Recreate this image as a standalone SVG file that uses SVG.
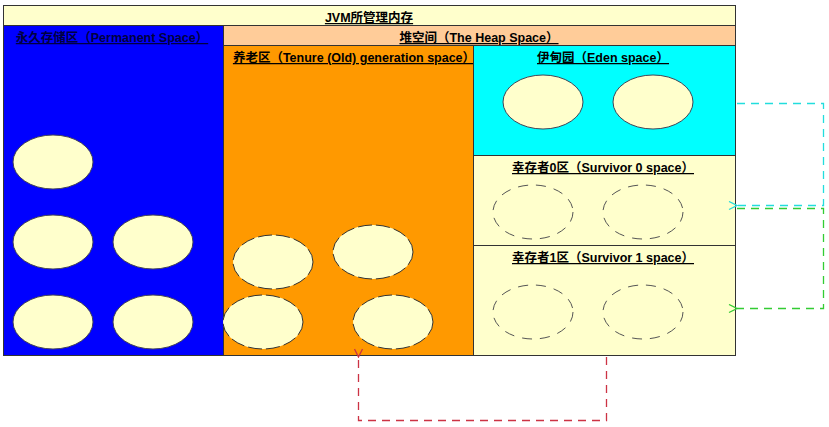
<svg xmlns="http://www.w3.org/2000/svg" width="829" height="427" viewBox="0 0 829 427">
<style>
.box{stroke:#333;stroke-width:1}
.t{font-family:"Liberation Sans","Noto Sans CJK SC",sans-serif;font-size:12.5px;font-weight:bold;text-anchor:middle;text-decoration:underline;fill:#000}
.full{fill:#ffffcc;stroke:#333;stroke-width:1;stroke-dasharray:14 4}
.empty{fill:none;stroke:#555;stroke-width:1;stroke-dasharray:10 8}
.solid{fill:#ffffcc;stroke:#445;stroke-width:1}
.conn{fill:none;stroke-width:1.3;stroke-dasharray:8 6}
</style>
<defs>
<marker id="arC" viewBox="0 0 10 10" refX="1" refY="5" markerWidth="10" markerHeight="10" orient="auto" markerUnits="userSpaceOnUse"><path d="M9,1 L1,5 L9,9" fill="none" stroke="#22dddd" stroke-width="1.3"/></marker>
<marker id="arG" viewBox="0 0 10 10" refX="1" refY="5" markerWidth="10" markerHeight="10" orient="auto" markerUnits="userSpaceOnUse"><path d="M9,1 L1,5 L9,9" fill="none" stroke="#33cc33" stroke-width="1.3"/></marker>
<marker id="arR" viewBox="0 0 10 10" refX="1" refY="5" markerWidth="10" markerHeight="10" orient="auto" markerUnits="userSpaceOnUse"><path d="M9,1 L1,5 L9,9" fill="none" stroke="#cc3344" stroke-width="1.3"/></marker>
</defs>
<rect width="829" height="427" fill="#fff"/>
<g id="jvm">
<rect class="box" x="3.5" y="5.5" width="732" height="350" fill="#ffffcc"/>
<text class="t" x="369" y="22">JVM所管理内存</text>
</g>
<g id="perm">
<rect class="box" x="3.5" y="25.5" width="220" height="330" fill="#0000ff"/>
<text class="t" x="112" y="42" style="fill:#000040">永久存储区（Permanent Space）</text>
<ellipse class="solid" cx="53" cy="162" rx="40" ry="27"/>
<ellipse class="solid" cx="53" cy="242" rx="40" ry="27"/>
<ellipse class="solid" cx="153" cy="242" rx="40" ry="27"/>
<ellipse class="solid" cx="53" cy="322" rx="40" ry="27"/>
<ellipse class="solid" cx="153" cy="322" rx="40" ry="27"/>
</g>
<g id="heap">
<rect class="box" x="223.5" y="25.5" width="512" height="20" fill="#ffcc99"/>
<text class="t" x="479" y="42">堆空间（The Heap Space）</text>
</g>
<g id="tenure">
<rect class="box" x="223.5" y="45.5" width="250" height="310" fill="#ff9900"/>
<text class="t" x="354" y="62">养老区（Tenure (Old) generation space）</text>
<ellipse class="full" cx="273" cy="262" rx="40" ry="27"/>
<ellipse class="full" cx="373" cy="252" rx="40" ry="27"/>
<ellipse class="full" cx="263" cy="322" rx="40" ry="27"/>
<ellipse class="full" cx="393" cy="322" rx="40" ry="27"/>
</g>
<g id="eden">
<rect class="box" x="473.5" y="45.5" width="262" height="110" fill="#00ffff"/>
<text class="t" x="603" y="62">伊甸园（Eden space）</text>
<ellipse class="solid" cx="543" cy="102" rx="40" ry="27"/>
<ellipse class="solid" cx="653" cy="102" rx="40" ry="27"/>
</g>
<g id="survivor0">
<rect class="box" x="473.5" y="155.5" width="262" height="90" fill="#ffffcc"/>
<text class="t" x="603" y="172">幸存者0区（Survivor 0 space）</text>
<ellipse class="empty" cx="533" cy="212" rx="40" ry="27"/>
<ellipse class="empty" cx="643" cy="212" rx="40" ry="27"/>
</g>
<g id="survivor1">
<rect class="box" x="473.5" y="245.5" width="262" height="110" fill="#ffffcc"/>
<text class="t" x="603" y="262">幸存者1区（Survivor 1 space）</text>
<ellipse class="empty" cx="533" cy="312" rx="40" ry="27"/>
<ellipse class="empty" cx="643" cy="312" rx="40" ry="27"/>
</g>
<g id="connectors">
<path class="conn" stroke="#22dddd" d="M737,103.5 H823.5 V205.5 H737" marker-end="url(#arC)"/>
<path class="conn" stroke="#33cc33" d="M737,208.5 H823.5 V308.5 H737" marker-end="url(#arG)"/>
<path class="conn" stroke="#cc3344" d="M606.5,357 V420.5 H358.5 V357" marker-end="url(#arR)"/>
</g>
</svg>
